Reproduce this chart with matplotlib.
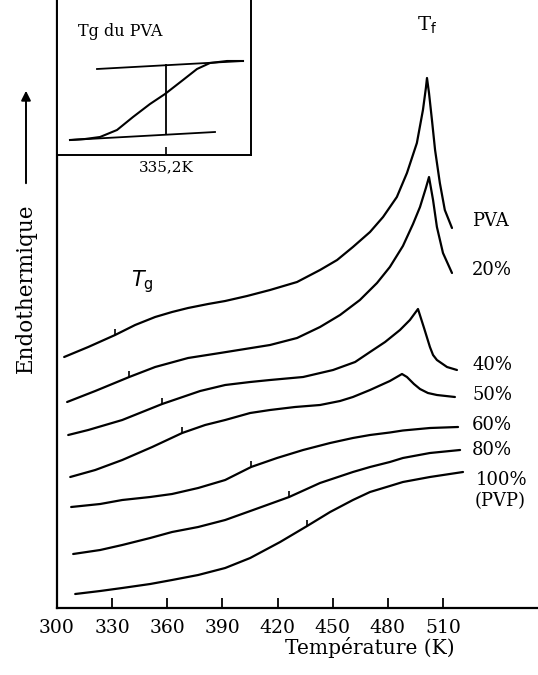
import numpy as np
import matplotlib
matplotlib.use("Agg")
import matplotlib.pyplot as plt

plt.rcParams["font.family"] = ["DejaVu Serif"]

# -----------------------------
# DSC curves (temperature in K, heat flow in arbitrary units, offset per blend)
# -----------------------------
t_pva = [303.9, 317.0, 331.6, 342.5, 353.4, 362.6, 371.3, 382.2, 391.5, 403.4, 415.9, 430.6,
         443.1, 452.4, 461.0, 470.3, 477.4, 484.9, 490.4, 495.8, 499.1, 500.7, 501.3,
         502.4, 504.0, 505.7, 508.3, 511.0, 514.9]
y_pva = [251, 261, 273, 283, 291, 296, 300, 304, 307, 312, 318, 326,
         338, 348, 361, 376, 391, 411, 435, 465, 498, 520, 530,
         515, 488, 458, 425, 398, 380]

t_20 = [305.5, 320.8, 339.3, 353.4, 371.3, 388.7, 415.9, 430.6, 443.1, 454.0, 464.8, 474.1,
        481.1, 488.2, 493.7, 497.5, 500.7, 502.4, 504.6, 506.7, 510.0, 514.9]
y_20 = [206, 217, 231, 241, 250, 255, 263, 270, 281, 293, 308, 325,
        341, 362, 384, 401, 420, 431, 408, 381, 355, 335]

t_40 = [306.1, 317.0, 335.5, 357.2, 377.9, 391.5, 405.1, 415.9, 433.9, 450.2, 462.2, 470.3,
        478.5, 486.6, 492.0, 496.4, 499.7, 502.9, 504.6, 506.7, 512.2, 517.6]
y_40 = [173, 178, 188, 204, 217, 223, 226, 228, 231, 238, 246, 256,
        266, 278, 288, 299, 280, 261, 253, 248, 241, 238]

t_50 = [307.2, 320.8, 335.5, 351.8, 368.1, 380.6, 391.5, 405.1, 415.9, 429.5, 443.1, 454.0,
        461.0, 470.3, 481.1, 487.7, 490.4, 494.2, 497.5, 501.8, 506.7, 516.5]
y_50 = [131, 138, 148, 161, 175, 183, 188, 195, 198, 201, 203, 207,
        211, 218, 227, 234, 231, 224, 219, 215, 213, 211]

t_60 = [307.7, 323.5, 335.5, 350.7, 362.6, 376.8, 391.5, 405.6, 419.7, 433.9, 448.6, 461.0,
        470.3, 481.1, 488.2, 502.9, 518.2]
y_60 = [101, 104, 108, 111, 114, 120, 128, 141, 150, 158, 165, 170,
        173, 175.5, 177.5, 180, 181]

t_80 = [308.8, 323.5, 335.5, 350.7, 362.6, 376.8, 391.5, 406.7, 426.3, 443.1, 461.0, 470.3,
        481.1, 488.2, 502.9, 519.3]
y_80 = [54, 58, 63, 70, 76, 81, 88, 98, 111, 125, 136, 141,
        146, 150, 155, 158]

t_100 = [309.9, 323.5, 335.5, 350.7, 362.6, 376.8, 391.5, 405.1, 421.4, 436.1, 448.6, 461.0,
         470.3, 481.1, 488.2, 502.9, 520.9]
y_100 = [14, 17, 20, 24, 28, 33, 40, 50, 66, 82, 96, 108,
         116, 122, 126, 131, 136]

curves = [(t_pva, y_pva), (t_20, y_20), (t_40, y_40), (t_50, y_50),
          (t_60, y_60), (t_80, y_80), (t_100, y_100)]

# glass transition marks, one per curve
tg_marks = [331.6, 339.3, 357.2, 368.1, 405.6, 426.3, 436.1]

# curve labels and their positions
labels = ["PVA", "20%", "40%", "50%", "60%", "80%", "100%", "(PVP)"]
label_t = [525.8, 525.8, 525.8, 525.8, 525.8, 525.8, 528.0, 527.2]
label_y = [387, 338, 243, 213, 183, 158, 128, 107]

x_ticks = [300, 330, 360, 390, 420, 450, 480, 510]

# inset: Tg of PVA
ins_t = [325.6, 327.1, 328.6, 330.3, 331.9, 333.6, 335.1, 336.9, 338.3, 339.6, 341.3, 342.9]
ins_y = [15, 16, 18, 25, 38, 51, 61, 75, 86, 92, 94, 94]
ins_upper_t = [328.3, 342.9]
ins_upper_y = [86, 94]
ins_lower_t = [325.6, 340.1]
ins_lower_y = [15, 23]
ins_tg = 335.2

# -----------------------------
W, H = 538, 675
fig = plt.figure(figsize=(W / 100, H / 100), dpi=100)
ax = fig.add_axes([57 / W, 67 / H, (W - 57) / W, 608 / H])

for t, y in curves:
    ax.plot(t, y, color="black", lw=1.6, solid_capstyle="round", solid_joinstyle="round")

for (t, y), tg in zip(curves, tg_marks):
    y0 = np.interp(tg, t, y)
    ax.vlines(tg, y0, y0 + 6, color="black", lw=1.2)

for lab, lt, ly in zip(labels, label_t, label_y):
    ax.text(lt, ly, lab, fontsize=13, ha="left", va="center")

ax.text(501.3, 583, r"T$_{\rm f}$", fontsize=14, ha="center", va="center")
ax.text(346.3, 326, r"$\mathit{T}_{\rm g}$", fontsize=15, ha="center", va="center",
        family=["DejaVu Sans"])

ax.set_xlim(300, 561.7)
ax.set_ylim(0, 608)
ax.set_xticks(x_ticks)
ax.set_yticks([])
ax.tick_params(axis="x", direction="in", length=7, width=1.3, labelsize=13.5, pad=8)
for s in ["top", "right"]:
    ax.spines[s].set_visible(False)
for s in ["left", "bottom"]:
    ax.spines[s].set_linewidth(1.6)

ax.set_xlabel("Température (K)", fontsize=14.5)
ax.xaxis.set_label_coords(0.651, -0.047)

fig.text(26 / W, 1 - 288 / H, "Endothermique", rotation=90, fontsize=15.5,
         ha="center", va="center")
ax.annotate("", xy=(26 / W, 1 - 88 / H), xytext=(26 / W, 1 - 186 / H),
            xycoords="figure fraction", textcoords="figure fraction",
            arrowprops=dict(arrowstyle="-|>", color="black", lw=1.4,
                            mutation_scale=14))

# inset
axi = fig.add_axes([57 / W, 1 - 155 / H, (251 - 57) / W, 155 / H])
axi.plot(ins_t, ins_y, color="black", lw=1.5, solid_joinstyle="round")
axi.plot(ins_upper_t, ins_upper_y, color="black", lw=1.3)
axi.plot(ins_lower_t, ins_lower_y, color="black", lw=1.3)
axi.vlines(ins_tg, 20, 91, color="black", lw=1.3)
axi.text(326.4, 124, "Tg du PVA", fontsize=11.5, ha="left", va="center")
axi.set_xlim(324.3, 343.7)
axi.set_ylim(0, 155)
axi.set_xticks([ins_tg])
axi.set_xticklabels(["335,2K"])
axi.set_yticks([])
axi.tick_params(axis="x", direction="in", length=6, width=1.2, labelsize=11, pad=4)
axi.spines["top"].set_visible(False)
for s in ["left", "right", "bottom"]:
    axi.spines[s].set_linewidth(1.4)

fig.savefig("out.png", dpi=100)
